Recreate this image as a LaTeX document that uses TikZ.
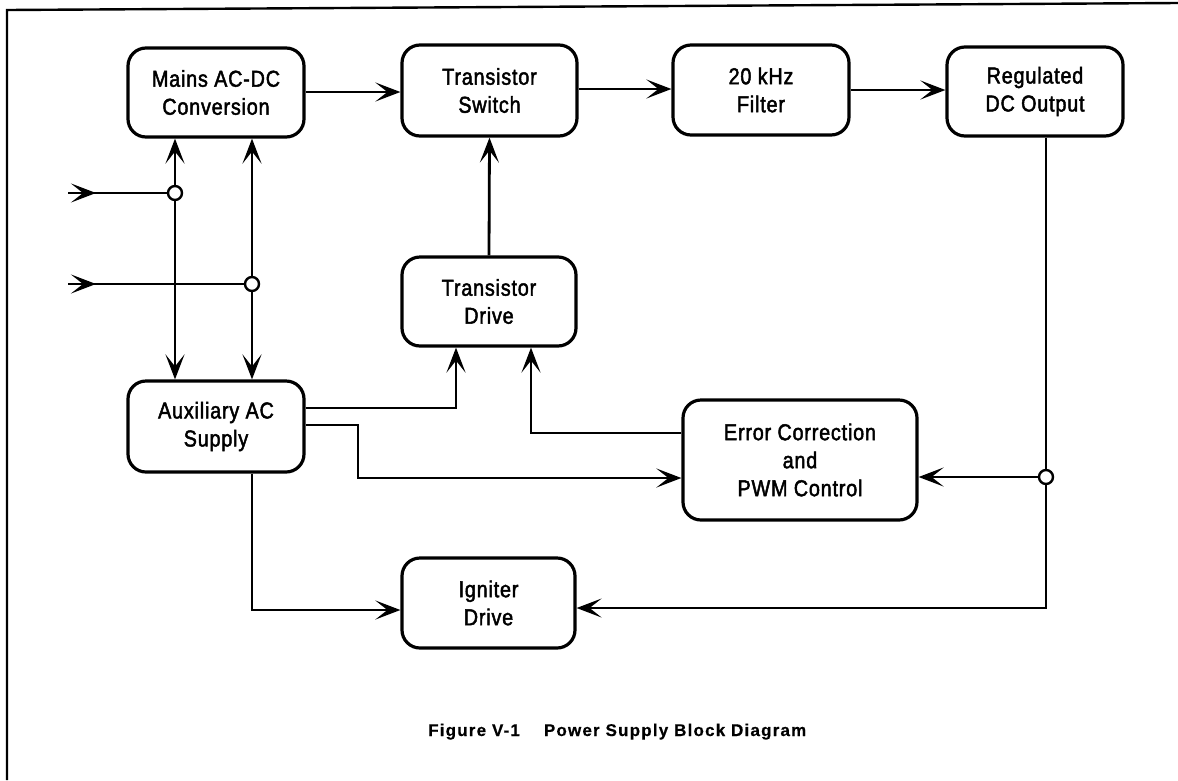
\documentclass[tikz,border=0pt]{standalone}
\usepackage{fontspec}
\setmainfont{Liberation Sans}
\newfontfamily\lblfont[FakeStretch=0.86,LetterSpace=3.5,FakeBold=2]{Liberation Sans}
\newfontfamily\capfont[LetterSpace=7,FakeBold=0.5]{Liberation Sans}
\usetikzlibrary{arrows.meta}
\begin{document}
\begin{tikzpicture}[x=1pt,y=-1pt,
  blk/.style={draw, line width=3.2pt, rounded corners=18pt, align=center,
    font=\lblfont\fontsize{23}{28}\selectfont, inner sep=0pt},
  wire/.style={line width=2.8pt},
  tip/.tip={Stealth[length=25pt,width=19pt,inset=12pt]},
  arr/.style={wire, -tip},
  darr/.style={wire, tip-tip},
  junc/.style={circle, draw, fill=white, line width=2.4pt, minimum size=14pt, inner sep=0pt}
]
\useasboundingbox (0,0) rectangle (1178,780);
\fill[white] (0,0) rectangle (1178,780);
% frame
\draw[line width=2.4pt] (7,780) -- (7,10) -- (1178,3);

% blocks
\node[blk, minimum width=176pt, minimum height=89pt] (mains) at (216,92.5) {Mains AC-DC\\Conversion};
\node[blk, minimum width=175pt, minimum height=91pt] (ts) at (489.5,90.5) {Transistor\\Switch};
\node[blk, minimum width=176pt, minimum height=90pt] (filt) at (761,90) {20 kHz\\Filter};
\node[blk, minimum width=176pt, minimum height=89pt] (reg) at (1035,91.5) {Regulated\\DC Output};
\node[blk, minimum width=174pt, minimum height=89pt] (drv) at (489,301.5) {Transistor\\Drive};
\node[blk, minimum width=176pt, minimum height=91pt] (aux) at (216,426.5) {Auxiliary AC\\Supply};
\node[blk, minimum width=234pt, minimum height=120pt] (ec) at (800,460) {Error Correction\\and\\PWM Control};
\node[blk, minimum width=173pt, minimum height=90pt] (ign) at (488.5,603) {Igniter\\Drive};

% junction coordinates
\coordinate (j1) at (175,193);
\coordinate (j2) at (252,284);
\coordinate (j3) at (1046,477);
\coordinate (in1) at (68,193);
\coordinate (in2) at (68,284);

% top chain
\draw[arr] (mains.east |- 0,92) -- (ts.west |- 0,92);
\draw[arr] (ts.east |- 0,89) -- (filt.west |- 0,89);
\draw[arr] (filt.east |- 0,90) -- (reg.west |- 0,90);
\draw[arr] (drv.north) -- (ts.south);

% inputs
\draw[arr] (in1) -- ++(28,0);
\draw[wire] (in1) -- (j1);
\draw[arr] (in2) -- ++(28,0);
\draw[wire] (in2) -- (j2);

% double verticals
\draw[darr] (j1 |- mains.south) -- (j1 |- aux.north);
\draw[darr] (j2 |- mains.south) -- (j2 |- aux.north);

% aux to drive / ec
\draw[arr] (aux.east |- 0,408) -| (456,0 |- drv.south);
\draw[arr] (ec.west |- 0,433) -| (531,0 |- drv.south);
\draw[arr] (aux.east |- 0,425) -- (358,425) |- (ec.west |- 0,478);

% regulated feedback
\draw[arr, line width=2.4pt] (j3 |- reg.south) |- (ign.east |- 0,608);
\draw[arr] (j3) -- (ec.east |- j3);

% aux to igniter
\draw[arr] (j2 |- aux.south) |- (ign.west |- 0,610);

% junction circles
\node[junc] (j1c) at (j1) {};
\node[junc] (j2c) at (j2) {};
\node[junc] (j3c) at (j3) {};

% caption
\node[anchor=base west, inner sep=0pt, font=\capfont\bfseries\fontsize{17}{20}\selectfont] (cap) at (428,736) {Figure V-1\hspace{24pt}Power Supply Block Diagram};
\end{tikzpicture}
\end{document}
